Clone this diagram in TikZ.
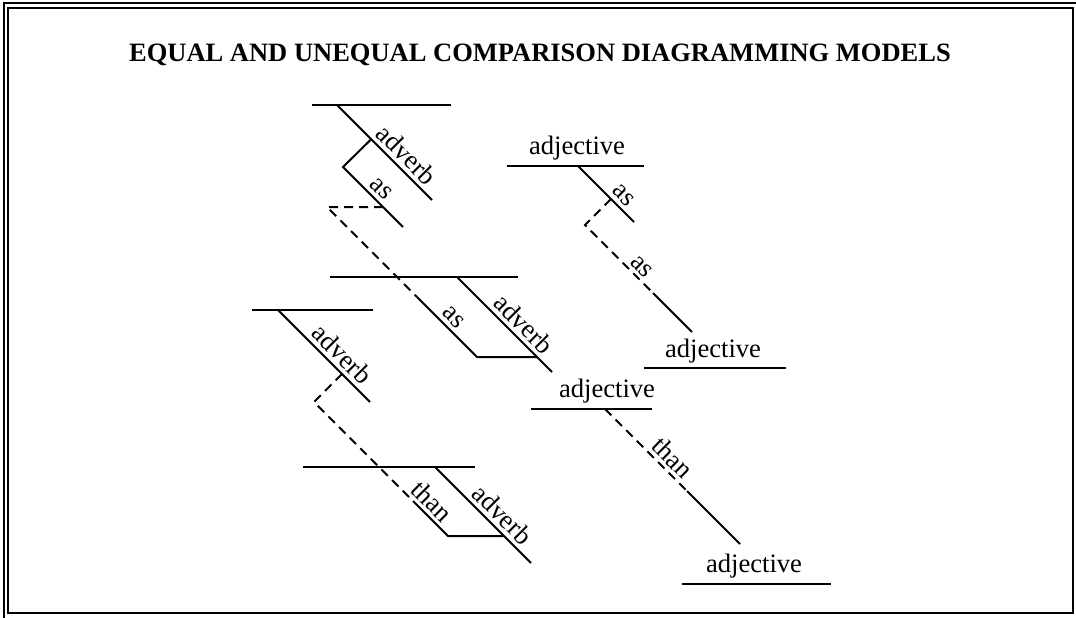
\documentclass[tikz,border=0pt]{standalone}
\usepackage{fontspec}
\setmainfont{Liberation Serif}
\usetikzlibrary{calc}

\begin{document}
\begin{tikzpicture}[x=1pt,y=-1pt,
	rule/.style={line width=2pt},
	gap/.style={line width=2pt,dash pattern=on 9pt off 6pt},
	word/.style={font=\fontsize{26.6}{30}\selectfont,inner sep=0pt},
	tag/.style={font=\fontsize{26.6}{30}\selectfont,inner sep=4pt,sloped,above}]
	\useasboundingbox (0,0) rectangle (1076,618);
	% frame with the offset double edge
	\draw[line width=2pt] (8,8) rectangle (1073,612.5);
	\draw[line width=2pt] (4,618) -- (4,3) -- (1076,3);
	\node[font=\fontsize{26.5}{30}\selectfont\bfseries,anchor=base] (title) at (540,62)
		{EQUAL AND UNEQUAL COMPARISON DIAGRAMMING MODELS};
	% as ... as with adverbs
	\coordinate (a0) at (337,105);
	\coordinate (a1) at (432,200);
	\coordinate (a2) at ($(a0)!.36!(a1)$);
	\coordinate (a3) at (343,167);
	\coordinate (a4) at (403,227);
	\coordinate (a5) at (383,207);
	\coordinate (a6) at (327,207);
	\draw[rule] (312,105) -- (451,105);
	\draw[rule] (a0) -- (a1) node[tag,pos=.63]{adverb};
	\draw[rule] (a2) -- (a3) -- (a4) node[tag,pos=.5]{as};
	\coordinate (b0) at (417,297);
	\coordinate (b1) at (477,357);
	\coordinate (b2) at (537,357);
	\draw[gap] (a5) -- (a6) -- (b0);
	\draw[rule] (330,277) -- (518,277);
	\draw[rule] (457,277) -- (552,372) node[tag,pos=.6]{adverb};
	\draw[rule] (b0) -- (b1) node[tag,pos=.47]{as} -- (b2);
	% than with adverbs
	\coordinate (c0) at (278,310);
	\coordinate (c1) at (370,402);
	\coordinate (c2) at (342,374);
	\coordinate (c3) at (314,402);
	\coordinate (d0) at (413,501);
	\coordinate (d1) at (448,536);
	\coordinate (d2) at (504,536);
	\draw[rule] (252,310) -- (373,310);
	\draw[rule] (c0) -- (c1) node[tag,pos=.59]{adverb};
	\draw[gap] (c2) -- (c3) -- (d0);
	\draw[rule] (303,467) -- (475,467);
	\draw[rule] (435,467) -- (531,563) node[tag,pos=.6]{adverb};
	\draw[rule] (d0) -- (d1) -- (d2);
	\path (c3) -- (d1) node[tag,pos=.81]{than};
	% as ... as with adjectives
	\node[word,anchor=base] (e) at (577,154) {adjective};
	\coordinate (e0) at (578,166);
	\coordinate (e1) at (634,222);
	\coordinate (e2) at (611,199);
	\coordinate (e3) at (585,225);
	\coordinate (e4) at (653,293);
	\coordinate (e5) at (692,332);
	\draw[rule] (507,166) -- (644,166);
	\draw[rule] (e0) -- (e1) node[tag,pos=.67]{as};
	\draw[gap] (e2) -- (e3) -- (e4);
	\draw[rule] (e4) -- (e5);
	\path (e3) -- (e5) node[tag,pos=.46]{as};
	\node[word,anchor=base] (f) at (713,357) {adjective};
	\draw[rule] (644,368) -- (786,368);
	% than with adjectives
	\node[word,anchor=base] (g) at (607,397) {adjective};
	\coordinate (g0) at (605,409);
	\coordinate (g1) at (687,491);
	\coordinate (g2) at (740,544);
	\draw[rule] (531,409) -- (652,409);
	\draw[gap] (g0) -- (g1);
	\draw[rule] (g1) -- (g2);
	\path (g0) -- (g2) node[tag,pos=.43]{than};
	\node[word,anchor=base] (h) at (754,572) {adjective};
	\draw[rule] (682,584) -- (831,584);
\end{tikzpicture}
\end{document}
